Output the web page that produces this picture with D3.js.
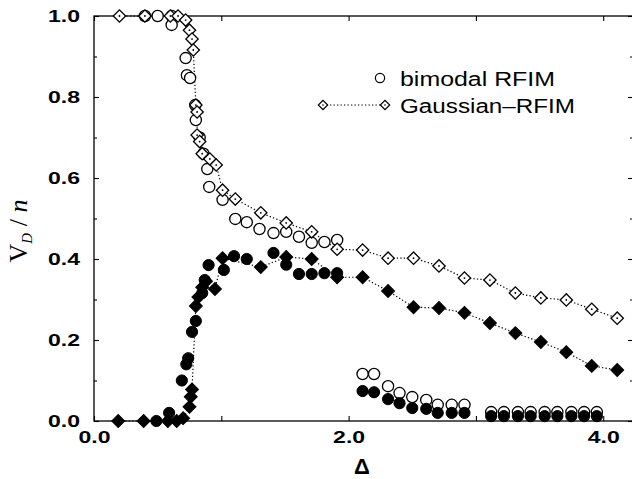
<!DOCTYPE html>
<html>
<head>
<meta charset="utf-8">
<script src="https://cdn.jsdelivr.net/npm/d3@7/dist/d3.min.js"></script>
<style>
  html, body { margin: 0; padding: 0; background: #fff; }
  svg { display: block; }
</style>
</head>
<body>
<svg id="chart" width="632" height="479"></svg>
<script>
// ---- data (Delta, V_D/n) ----
const bimodalOpen = [
  [0.40,1.000],[0.50,1.000],[0.61,1.000],[0.61,0.978],[0.72,0.896],[0.73,0.854],[0.755,0.847],
  [0.795,0.780],[0.80,0.743],[0.83,0.700],[0.86,0.660],[0.89,0.622],[0.905,0.578],[1.01,0.546],
  [1.11,0.499],[1.20,0.491],[1.30,0.474],[1.41,0.464],[1.51,0.467],[1.61,0.455],[1.71,0.440],
  [1.81,0.442],[1.91,0.447],
  [2.11,0.116],[2.20,0.116],[2.31,0.086],[2.40,0.069],[2.50,0.059],[2.61,0.052],[2.70,0.040],
  [2.81,0.040],[2.91,0.040],
  [3.12,0.022],[3.22,0.022],[3.33,0.022],[3.43,0.022],[3.54,0.022],[3.64,0.022],[3.75,0.022],
  [3.85,0.022],[3.95,0.022]
];
const bimodalFilled = [
  [0.49,0.000],[0.59,0.020],[0.69,0.100],[0.725,0.140],[0.74,0.155],[0.77,0.220],[0.80,0.247],
  [0.85,0.316],[0.87,0.348],[0.90,0.385],[1.02,0.373],[1.10,0.407],[1.20,0.400],[1.41,0.415],
  [1.51,0.386],[1.61,0.363],[1.71,0.363],[1.81,0.365],[1.91,0.365],
  [2.11,0.074],[2.20,0.071],[2.31,0.054],[2.40,0.044],[2.50,0.032],[2.61,0.030],[2.70,0.020],
  [2.81,0.020],[2.91,0.020],
  [3.12,0.012],[3.22,0.012],[3.33,0.012],[3.43,0.012],[3.54,0.012],[3.64,0.012],[3.75,0.012],
  [3.85,0.012],[3.95,0.012]
];
const gaussOpen = [
  [0.20,1.000],[0.40,1.000],[0.60,1.000],[0.66,1.000],[0.72,0.990],[0.75,0.965],[0.77,0.943],
  [0.78,0.916],[0.80,0.780],[0.81,0.763],[0.81,0.706],[0.83,0.690],[0.85,0.660],[0.91,0.647],
  [0.96,0.632],[1.01,0.570],[1.11,0.548],[1.31,0.514],[1.51,0.489],[1.71,0.467],[1.91,0.424],
  [2.11,0.422],[2.31,0.402],[2.51,0.402],[2.71,0.383],[2.91,0.353],[3.11,0.348],[3.31,0.316],
  [3.51,0.304],[3.71,0.299],[3.91,0.276],[4.11,0.254]
];
const gaussFilled = [
  [0.19,0.000],[0.39,0.000],[0.58,0.000],[0.65,0.000],[0.70,0.007],[0.75,0.035],[0.76,0.060],
  [0.77,0.078],[0.80,0.284],[0.82,0.306],[0.85,0.330],[0.88,0.345],[0.95,0.326],[1.01,0.402],
  [1.31,0.380],[1.51,0.405],[1.71,0.400],[1.91,0.355],[2.11,0.355],[2.31,0.321],[2.51,0.281],
  [2.71,0.279],[2.91,0.267],[3.11,0.242],[3.31,0.217],[3.51,0.195],[3.71,0.170],[3.91,0.136],
  [4.11,0.126]
];
const xTicks = [0, 1, 2, 3, 4];
const xTickLabels = ["0.0", "", "2.0", "", "4.0"];
const yTicks = [0, 0.2, 0.4, 0.6, 0.8, 1.0];
const yTickLabels = ["0.0", "0.2", "0.4", "0.6", "0.8", "1.0"];
const yMinorTicks = [0.1, 0.3, 0.5, 0.7, 0.9];
const legendLabels = ["bimodal RFIM", "Gaussian\u2013RFIM"];

// ---- layout ----
const svg = d3.select("#chart");
const L = 94, R = 633, T = 16, B = 421;
const x = d3.scaleLinear().domain([0, 4.234]).range([L, R]);
const y = d3.scaleLinear().domain([0, 1]).range([B, T]);
const tickFont = "'Liberation Sans', Arial, Helvetica, sans-serif";

// frame
svg.append("rect").attr("x", L).attr("y", T).attr("width", R - L).attr("height", B - T)
  .attr("fill", "none").attr("stroke", "#000").attr("stroke-width", 1.3);

function styleAxis(g) {
  g.select(".domain").remove();
  g.selectAll(".tick line").attr("stroke", "#000").attr("stroke-width", 1.1);
  g.selectAll(".tick text").attr("font-family", tickFont).attr("font-weight", "bold")
    .attr("font-size", 17).attr("fill", "#000");
}

// bottom axis
const gx = svg.append("g").attr("transform", `translate(0,${B})`)
  .call(d3.axisBottom(x).tickValues(xTicks).tickSize(-5).tickPadding(10)
    .tickFormat((d, i) => xTickLabels[i]));
styleAxis(gx);
gx.selectAll(".tick text").filter(function () { return this.textContent !== ""; })
  .attr("textLength", 32).attr("lengthAdjust", "spacingAndGlyphs");
// top axis ticks
const gxt = svg.append("g").attr("transform", `translate(0,${T})`)
  .call(d3.axisTop(x).tickValues(xTicks).tickSize(-5).tickFormat(""));
styleAxis(gxt);

// left axis
const gy = svg.append("g").attr("transform", `translate(${L},0)`)
  .call(d3.axisLeft(y).tickValues(yTicks).tickSize(-5).tickPadding(14)
    .tickFormat((d, i) => yTickLabels[i]));
styleAxis(gy);
gy.selectAll(".tick text").attr("textLength", 32).attr("lengthAdjust", "spacingAndGlyphs");
const gym = svg.append("g").attr("transform", `translate(${L},0)`)
  .call(d3.axisLeft(y).tickValues(yMinorTicks).tickSize(-3).tickFormat(""));
styleAxis(gym);
// right axis ticks
const gyr = svg.append("g").attr("transform", `translate(${R},0)`)
  .call(d3.axisRight(y).tickValues(yTicks).tickSize(-5).tickFormat(""));
styleAxis(gyr);
const gyrm = svg.append("g").attr("transform", `translate(${R},0)`)
  .call(d3.axisRight(y).tickValues(yMinorTicks).tickSize(-3).tickFormat(""));
styleAxis(gyrm);

// axis titles
svg.append("text").attr("x", 362).attr("y", 474).attr("text-anchor", "middle")
  .attr("font-family", tickFont).attr("font-weight", "bold").attr("font-size", 22)
  .text("\u0394");
const yl = svg.append("text").attr("transform", "translate(27,231) rotate(-90)")
  .attr("text-anchor", "middle").attr("font-family", "'Liberation Serif', 'Times New Roman', serif")
  .attr("font-size", 26).attr("fill", "#000");
yl.append("tspan").text("V");
yl.append("tspan").attr("font-size", 15).attr("font-style", "italic").attr("dy", 5).text("D");
yl.append("tspan").attr("dy", -5).text(" / ");
yl.append("tspan").attr("font-style", "italic").text("n");

// ---- marks ----
const dotted = d3.line().x(d => x(d[0])).y(d => y(d[1]));
const diamond = d3.symbol().type(d3.symbolSquare).size(76);
const diamondF = d3.symbol().type(d3.symbolSquare).size(84);
const plot = svg.append("g");

plot.append("path").datum(gaussOpen).attr("d", dotted).attr("fill", "none")
  .attr("stroke", "#000").attr("stroke-width", 1.2).attr("stroke-dasharray", "1.3,2.2");
plot.append("path").datum(gaussFilled).attr("d", dotted).attr("fill", "none")
  .attr("stroke", "#000").attr("stroke-width", 1.2).attr("stroke-dasharray", "1.3,2.2");

plot.selectAll(".bo").data(bimodalOpen).join("circle").attr("class", "bo")
  .attr("cx", d => x(d[0])).attr("cy", d => y(d[1])).attr("r", 5.6)
  .attr("fill", "#fff").attr("stroke", "#000").attr("stroke-width", 1.3);

const go = plot.selectAll(".go").data(gaussOpen).join("g").attr("class", "go")
  .attr("transform", d => `translate(${x(d[0])},${y(d[1])})`);
go.append("path").attr("d", diamond).attr("transform", "rotate(45)")
  .attr("fill", "#fff").attr("stroke", "#000").attr("stroke-width", 1.3);
go.append("circle").attr("r", 0.9).attr("fill", "#000");

plot.selectAll(".bf").data(bimodalFilled).join("circle").attr("class", "bf")
  .attr("cx", d => x(d[0])).attr("cy", d => y(d[1])).attr("r", 5.6)
  .attr("fill", "#000").attr("stroke", "#000").attr("stroke-width", 1);

plot.selectAll(".gf").data(gaussFilled).join("path").attr("class", "gf")
  .attr("d", diamondF)
  .attr("transform", d => `translate(${x(d[0])},${y(d[1])}) rotate(45)`)
  .attr("fill", "#000").attr("stroke", "#000").attr("stroke-width", 1);

// ---- legend ----
const lg = svg.append("g");
lg.append("circle").attr("cx", 380).attr("cy", 78).attr("r", 4.6)
  .attr("fill", "#fff").attr("stroke", "#000").attr("stroke-width", 1.2);
lg.append("line").attr("x1", 323).attr("x2", 385).attr("y1", 105).attr("y2", 105)
  .attr("stroke", "#000").attr("stroke-width", 1.1).attr("stroke-dasharray", "1.3,2.2");
[323, 385].forEach(cx => {
  const g = lg.append("g").attr("transform", `translate(${cx},105)`);
  g.append("path").attr("d", d3.symbol().type(d3.symbolSquare).size(44)).attr("transform", "rotate(45)")
    .attr("fill", "#fff").attr("stroke", "#000").attr("stroke-width", 1.2);
  g.append("circle").attr("r", 0.8).attr("fill", "#000");
});
lg.append("text").attr("x", 400).attr("y", 86).attr("font-family", tickFont)
  .attr("font-size", 20).attr("textLength", 155).attr("lengthAdjust", "spacingAndGlyphs")
  .text(legendLabels[0]);
lg.append("text").attr("x", 400).attr("y", 113).attr("font-family", tickFont)
  .attr("font-size", 20).attr("textLength", 175).attr("lengthAdjust", "spacingAndGlyphs")
  .text(legendLabels[1]);
</script>
</body>
</html>
